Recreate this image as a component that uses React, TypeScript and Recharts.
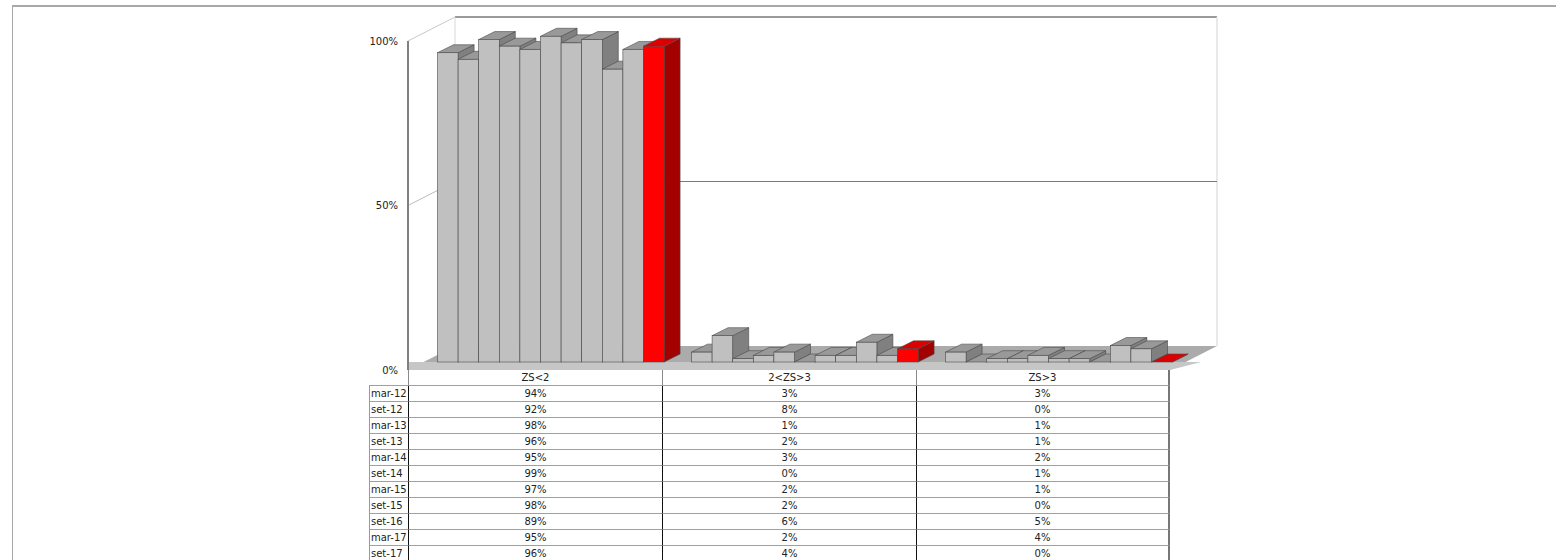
import { BarChart, Bar, XAxis, YAxis, ReferenceArea } from "recharts";

const categories = ["ZS<2", "2<ZS>3", "ZS>3"];
const periods = [
  "mar-12", "set-12", "mar-13", "set-13", "mar-14", "set-14",
  "mar-15", "set-15", "set-16", "mar-17", "set-17",
];
const zsUnder2 = [94, 92, 98, 96, 95, 99, 97, 98, 89, 95, 96];
const zsBetween = [3, 8, 1, 2, 3, 0, 2, 2, 6, 2, 4];
const zsOver3 = [3, 0, 1, 1, 2, 1, 1, 0, 5, 4, 0];
const yTicks = [0, 50, 100];

const byCategory = [zsUnder2, zsBetween, zsOver3];

const data = categories.map((name, ci) => {
  const row: Record<string, string | number> = { name };
  periods.forEach((p, pi) => {
    row[p] = byCategory[ci][pi];
  });
  return row;
});

// 3D projection offsets
const BAR_SHIFT_X = 15.5;
const BAR_SHIFT_Y = -8;
const BAR_DEPTH_X = 16;
const BAR_DEPTH_Y = -8;
const WALL_DX = 47;
const WALL_DY = -24;

const FONT = "'DejaVu Sans', Verdana, sans-serif";

const palette = {
  gray: { front: "#c0c0c0", top: "#999999", side: "#808080" },
  red: { front: "#ff0000", top: "#dd0000", side: "#a30000" },
};

function Bar3D(props: any) {
  const { x, y, width, height, colors } = props;
  const fx = x + BAR_SHIFT_X;
  const fy = y + BAR_SHIFT_Y;
  const h = Math.max(height, 0);
  const stroke = "#4a4a4a";
  const sw = 0.6;
  return (
    <g>
      <polygon
        points={`${fx + width},${fy} ${fx + width + BAR_DEPTH_X},${fy + BAR_DEPTH_Y} ${fx + width + BAR_DEPTH_X},${fy + h + BAR_DEPTH_Y} ${fx + width},${fy + h}`}
        fill={colors.side}
        stroke={stroke}
        strokeWidth={sw}
      />
      <polygon
        points={`${fx},${fy} ${fx + width},${fy} ${fx + width + BAR_DEPTH_X},${fy + BAR_DEPTH_Y} ${fx + BAR_DEPTH_X},${fy + BAR_DEPTH_Y}`}
        fill={colors.top}
        stroke={stroke}
        strokeWidth={sw}
      />
      {h > 0 && (
        <rect x={fx} y={fy} width={width} height={h} fill={colors.front} stroke={stroke} strokeWidth={sw} />
      )}
    </g>
  );
}

// walls and floor behind the bars, built from the front plane of the plot
function Walls(props: any) {
  const { x, y, width, height } = props;
  const bottom = y + height;
  const right = x + width;
  return (
    <g>
      <polygon
        points={`${x},${bottom} ${right},${bottom} ${right + WALL_DX},${bottom + WALL_DY} ${x + WALL_DX},${bottom + WALL_DY}`}
        fill="#ababab"
      />
      <polygon
        points={`${x},${bottom + BAR_SHIFT_Y} ${right + WALL_DX + BAR_SHIFT_Y * 2},${bottom + BAR_SHIFT_Y} ${right},${bottom} ${x},${bottom}`}
        fill="#c6c6c6"
      />
      <line x1={x} y1={y} x2={x + WALL_DX} y2={y + WALL_DY} stroke="#c8c8c8" />
      <line x1={x + WALL_DX} y1={y + WALL_DY} x2={right + WALL_DX} y2={y + WALL_DY} stroke="#9a9a9a" strokeWidth={2} />
      <line x1={x + WALL_DX} y1={y + WALL_DY} x2={x + WALL_DX} y2={bottom + WALL_DY} stroke="#d8d8d8" />
      <line x1={right + WALL_DX} y1={y + WALL_DY} x2={right + WALL_DX} y2={bottom + WALL_DY} stroke="#e2e2e2" strokeWidth={1.5} />
    </g>
  );
}

// gridline along the side and back walls at the top edge of the area
function WallGrid(props: any) {
  const { x, y, width } = props;
  const right = x + width;
  return (
    <g>
      <line x1={x} y1={y} x2={x + WALL_DX} y2={y + WALL_DY} stroke="#bdbdbd" />
      <line x1={x + WALL_DX} y1={y + WALL_DY} x2={right + WALL_DX} y2={y + WALL_DY} stroke="#7a7a7a" />
    </g>
  );
}

const cellBase: React.CSSProperties = {
  boxSizing: "border-box",
  height: 16,
  lineHeight: "15px",
  textAlign: "center",
  whiteSpace: "nowrap",
  overflow: "hidden",
};

function DataTable() {
  return (
    <div style={{ position: "absolute", left: 369, top: 370, fontFamily: FONT, fontSize: 10, color: "#222" }}>
      <div style={{ display: "flex" }}>
        <div style={{ ...cellBase, width: 39 }} />
        {categories.map((c, i) => (
          <div
            key={c}
            style={{
              ...cellBase,
              width: 254,
              borderLeft: "1px solid #8a8a8a",
              borderBottom: "1px solid #a0a0a0",
              borderRight: i === categories.length - 1 ? "2px solid #777" : undefined,
            }}
          >
            {c}
          </div>
        ))}
      </div>
      {periods.map((p, pi) => (
        <div key={p} style={{ display: "flex" }}>
          <div
            style={{
              ...cellBase,
              width: 39,
              textAlign: "left",
              paddingLeft: 1,
              borderLeft: "1px solid #9a9a9a",
              borderTop: pi === 0 ? "1px solid #a0a0a0" : undefined,
              borderBottom: "1px solid #a0a0a0",
              marginTop: pi === 0 ? -1 : 0,
              height: pi === 0 ? 17 : 16,
              lineHeight: pi === 0 ? "16px" : "15px",
            }}
          >
            {p}
          </div>
          {byCategory.map((vals, ci) => (
            <div
              key={ci}
              style={{
                ...cellBase,
                width: 254,
                borderLeft: "1px solid #111",
                borderBottom: "1px solid #a0a0a0",
                borderRight: ci === byCategory.length - 1 ? "2px solid #777" : undefined,
              }}
            >
              {vals[pi]}%
            </div>
          ))}
        </div>
      ))}
    </div>
  );
}

export default function App() {
  return (
    <div style={{ position: "absolute", left: 0, top: 0, width: 1556, height: 560, overflow: "hidden", background: "#fff" }}>
      <div
        style={{
          position: "absolute",
          left: 12,
          top: 5,
          width: 1560,
          height: 600,
          borderTop: "2px solid #a8a8a8",
          borderLeft: "1px solid #a8a8a8",
        }}
      />
      <BarChart
        width={1556}
        height={560}
        data={data}
        margin={{ top: 41, right: 386, bottom: 190, left: 348 }}
        barGap={0}
        barSize={20.6}
        style={{ position: "absolute", left: 0, top: 0 }}
      >
        <ReferenceArea y1={0} y2={100} shape={<Walls />} />
        <ReferenceArea y1={0} y2={50} shape={<WallGrid />} />
        <XAxis
          dataKey="name"
          tick={false}
          tickLine={false}
          height={0}
          axisLine={{ stroke: "#555", strokeWidth: 1.5 }}
        />
        <YAxis
          domain={[0, 100]}
          ticks={yTicks}
          width={60}
          tickLine={false}
          tickMargin={4}
          axisLine={{ stroke: "#808080", strokeWidth: 2 }}
          tickFormatter={(v: number) => `${v}%`}
          tick={{ fontSize: 10, fill: "#222", fontFamily: FONT }}
        />
        {periods.map((p, i) => (
          <Bar
            key={p}
            dataKey={p}
            isAnimationActive={false}
            shape={(props: any) => (
              <Bar3D {...props} colors={i === periods.length - 1 ? palette.red : palette.gray} />
            )}
          />
        ))}
      </BarChart>
      <DataTable />
    </div>
  );
}
